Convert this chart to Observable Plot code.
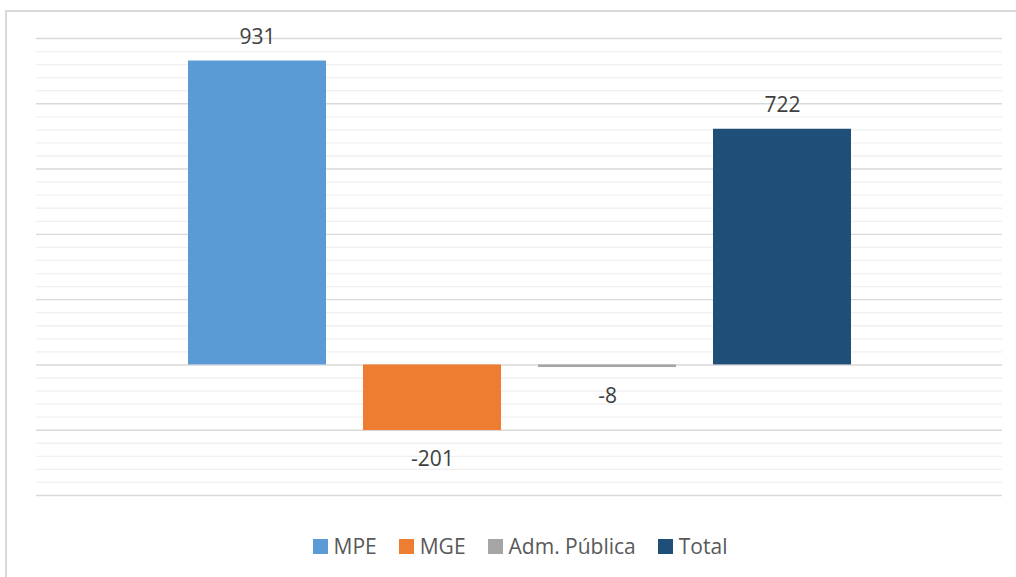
<!DOCTYPE html>
<html>
<head>
<meta charset="utf-8">
<script src="https://cdn.jsdelivr.net/npm/d3@7"></script>
<script src="https://cdn.jsdelivr.net/npm/@observablehq/plot@0.6"></script>
<style>
  html, body { margin: 0; padding: 0; background: #fff; }
  #wrap { position: relative; width: 1016px; height: 577px; overflow: hidden; font-family: "Open Sans", sans-serif; }
  #frame { position: absolute; left: 5px; top: 10px; width: 1100px; height: 700px; border-left: 2px solid #d9d9d9; border-top: 2px solid #d9d9d9; box-sizing: border-box; }
  #chart { position: absolute; left: 0; top: 0; }
  #legend { position: absolute; left: 0; top: 532px; width: 1040px; display: flex; justify-content: center; align-items: center; font-size: 21px; color: #595959; }
  .item { display: inline-flex; align-items: center; margin: 0 11px; }
  .sw { width: 15px; height: 15px; margin-right: 6px; display: inline-block; }
</style>
</head>
<body>
<div id="wrap">
  <div id="frame"></div>
  <div id="chart"></div>
  <div id="legend"></div>
</div>
<script>
const categories = ["MPE", "MGE", "Adm. Pública", "Total"];
const values = [931, -201, -8, 722];
const colors = ["#5b9bd5", "#ed7d31", "#a5a5a5", "#1f4e79"];
const majorTicks = [-400, -200, 0, 200, 400, 600, 800, 1000];
const minorTicks = [-360, -320, -280, -240, -160, -120, -80, -40,
  40, 80, 120, 160, 240, 280, 320, 360, 440, 480, 520, 560,
  640, 680, 720, 760, 840, 880, 920, 960];

const data = categories.map((c, i) => ({category: c, value: values[i]}));

const chart = Plot.plot({
  width: 1016,
  height: 520,
  marginLeft: 36,
  marginRight: 14,
  marginTop: 38,
  marginBottom: 25,
  style: {background: "transparent", fontFamily: "Open Sans, sans-serif"},
  x: {domain: categories, paddingInner: 0.214, paddingOuter: 0.86, axis: null},
  y: {domain: [-400, 1000], axis: null},
  color: {domain: categories, range: colors},
  marks: [
    Plot.ruleY(minorTicks, {stroke: "#f0f0f0", strokeWidth: 1.3}),
    Plot.ruleY(majorTicks, {stroke: "#d9d9d9", strokeWidth: 1.4}),
    Plot.barY(data, {x: "category", y: "value", fill: "category"}),
    Plot.text(data.filter(d => d.value >= 0), {x: "category", y: "value", text: d => String(d.value), dy: -24, fill: "#404040", fontSize: 21, lineAnchor: "middle"}),
    Plot.text(data.filter(d => d.value < 0), {x: "category", y: "value", text: d => String(d.value), dy: 29, fill: "#404040", fontSize: 21, lineAnchor: "middle"})
  ]
});
document.getElementById("chart").appendChild(chart);

const legend = document.getElementById("legend");
categories.forEach((c, i) => {
  const item = document.createElement("span");
  item.className = "item";
  const sw = document.createElement("span");
  sw.className = "sw";
  sw.style.background = colors[i];
  const t = document.createElement("span");
  t.textContent = c;
  item.appendChild(sw);
  item.appendChild(t);
  legend.appendChild(item);
});
</script>
</body>
</html>
